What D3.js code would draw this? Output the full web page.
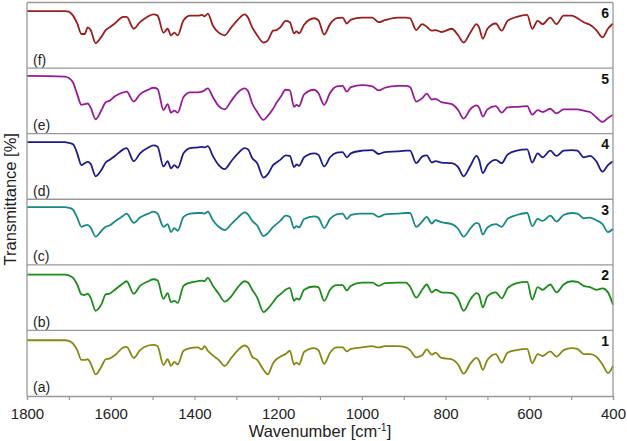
<!DOCTYPE html>
<html>
<head>
<meta charset="utf-8">
<script src="https://cdn.jsdelivr.net/npm/d3@7"></script>
<style>
  body { margin: 0; background: #fff; }
  svg { display: block; font-family: "Liberation Sans", Arial, sans-serif; }
</style>
</head>
<body>
<svg id="chart" width="627" height="441"></svg>
<script>
// FTIR spectra, six stacked panels, wavenumber axis reversed (1800 -> 400)

// shared wavenumber grid [cm-1]
const wavenumbers = [
  1800,1710,1700,1690,1680,1670,1662,1655,1648,1636,
  1622,1612,1603,1590,1570,1562,1545,1530,1510,1498,
  1488,1474,1464,1456,1448,1440,1426,1410,1392,1382,
  1376,1368,1356,1342,1328,1312,1296,1280,1272,1262,
  1250,1235,1225,1212,1204,1195,1182,1172,1162,1156,
  1150,1138,1114,1104,1090,1076,1060,1046,1036,1026,
  1000,975,960,945,915,895,885,870,856,845,
  833,824,810,785,770,757,740,726,720,711,
  700,680,666,652,630,605,593,580,568,550,
  535,518,498,485,470,455,440,425,412,400
];

// transmittance (relative, 0-100 within each panel)
const specA = [
  85,85,84,80,70,55,55,56,50,33,
  45,56,57,62,74,75,58,70,77,78,
  76,47,56,46,52,48,69,73,74,71,
  76,69,62,55,46,58,70,77,74,60,
  55,40,33,50,56,60,64,69,48,51,
  48,67,73,70,49,66,74,74,68,72,
  74,76,74,76,76,74,70,59,62,71,
  63,66,58,56,48,34,50,58,54,40,
  55,64,51,66,70,72,50,64,61,68,
  60,70,73,72,64,64,60,48,35,46
];
const specB = [
  85,85,84,80,70,55,54,56,50,30,
  40,55,56,62,72,75,56,68,75,78,
  76,48,57,43,45,42,68,73,75,76,
  75,80,68,56,44,52,66,75,73,62,
  50,28,33,43,50,55,62,65,45,49,
  47,62,67,66,45,62,69,69,61,68,
  73,73,68,72,73,73,67,50,62,70,
  58,62,58,57,48,30,48,57,54,35,
  52,58,49,64,72,74,47,66,62,70,
  58,70,75,74,68,66,62,64,58,39
];
const specC = [
  88,88,87,84,72,58,60,61,57,43,
  52,58,60,66,75,78,64,72,78,81,
  78,58,62,50,56,52,73,78,79,79,
  78,81,68,58,53,62,72,80,77,67,
  60,44,48,58,62,67,75,73,56,59,
  57,70,74,72,56,70,77,78,70,76,
  78,78,73,77,78,79,79,58,66,73,
  63,68,65,62,55,43,56,64,62,46,
  57,62,58,70,76,79,59,70,67,75,
  66,76,79,78,71,72,68,62,50,55
];
const specD = [
  87,87,86,84,70,52,55,57,54,35,
  45,56,60,66,76,78,58,70,79,82,
  80,50,58,47,52,48,70,78,79,80,
  79,81,66,52,46,58,70,78,76,63,
  55,33,38,52,56,60,67,66,49,53,
  51,64,70,68,50,64,71,72,64,70,
  74,75,69,72,73,74,74,55,65,67,
  56,58,56,55,49,35,52,66,60,40,
  52,60,55,68,74,76,56,70,64,74,
  66,74,75,74,64,66,58,42,52,58
];
const specE = [
  88,87,85,78,60,44,45,46,40,22,
  36,48,50,57,63,64,49,60,67,70,
  68,36,45,32,35,32,56,63,63,64,
  66,69,56,42,37,50,63,69,65,46,
  33,21,27,38,47,55,67,66,41,44,
  42,60,67,62,44,62,72,73,64,71,
  74,72,66,70,73,73,71,49,54,61,
  52,53,48,45,36,23,38,43,40,26,
  37,42,32,40,41,42,29,36,33,38,
  31,37,37,37,35,33,25,18,24,29
];
const specF = [
  87,87,86,80,68,52,52,62,58,38,
  48,58,62,68,78,78,60,70,79,82,
  80,54,60,50,54,50,73,80,80,81,
  79,83,65,54,50,62,74,82,77,62,
  50,39,42,57,58,62,72,70,53,56,
  53,66,76,73,51,67,76,77,68,74,
  77,77,70,73,77,77,76,58,67,63,
  57,58,55,60,50,39,55,67,62,45,
  60,68,57,72,78,81,60,72,67,77,
  67,80,80,76,70,66,58,47,60,68
];

// panel order top -> bottom
const series = [specF, specE, specD, specC, specB, specA];
const panelLabels = ["(f)", "(e)", "(d)", "(c)", "(b)", "(a)"];
const sampleNumbers = ["6", "5", "4", "3", "2", "1"];
const colors = ["#9c1b1b", "#991a99", "#1c1c8c", "#178a86", "#1c8c1c", "#878711"];
const xTicks = [1800,1700,1600,1500,1400,1300,1200,1100,1000,900,800,700,600,500,400];

const plotLeft = 27, plotRight = 613, plotTop = 2.5, plotBottom = 396;
const ph = (plotBottom - plotTop) / series.length;

const svg = d3.select("#chart");

const x = d3.scaleLinear().domain([1800, 400]).range([plotLeft, plotRight]);
const y = d3.scaleLinear().domain([0, 100]).range([ph, 0]);

const line = d3.line()
  .x(d => x(d[0]))
  .y(d => y(d[1]))
  .curve(d3.curveMonotoneX);

const panels = svg.selectAll(".panel")
  .data(series)
  .join("g")
  .attr("class", "panel")
  .attr("transform", (d, i) => `translate(0,${plotTop + i * ph})`);

// panel separators
panels.append("line")
  .attr("x1", plotLeft).attr("x2", plotRight)
  .attr("y1", 0).attr("y2", 0)
  .attr("stroke", "#999").attr("stroke-width", 1.3);

panels.append("path")
  .attr("d", d => line(wavenumbers.map((w, k) => [w, d[k]])))
  .attr("fill", "none")
  .attr("stroke", (d, i) => colors[i])
  .attr("stroke-width", 1.8)
  .attr("stroke-linejoin", "round");

panels.append("text")
  .attr("x", plotLeft + 6)
  .attr("y", ph - 3.5)
  .attr("font-size", "14px")
  .attr("fill", "#222")
  .text((d, i) => panelLabels[i]);

panels.append("text")
  .attr("x", 609)
  .attr("y", 15.5)
  .attr("text-anchor", "end")
  .attr("font-size", "14px")
  .attr("font-weight", "bold")
  .attr("fill", "#111")
  .text((d, i) => sampleNumbers[i]);

// frame verticals
svg.append("line").attr("x1", plotLeft).attr("x2", plotLeft).attr("y1", plotTop).attr("y2", plotBottom)
  .attr("stroke", "#999").attr("stroke-width", 1.3);
svg.append("line").attr("x1", plotRight).attr("x2", plotRight).attr("y1", plotTop).attr("y2", plotBottom)
  .attr("stroke", "#999").attr("stroke-width", 1.3);

// x axis
const xAxis = svg.append("g")
  .attr("transform", `translate(0,${plotBottom})`)
  .call(d3.axisBottom(x)
    .tickValues(xTicks)
    .tickSize(4)
    .tickPadding(8)
    .tickFormat(d => d % 200 === 0 ? d : ""));
xAxis.select(".domain").attr("stroke", "#999").attr("stroke-width", 1.3);
xAxis.selectAll(".tick line").attr("stroke", "#999").attr("stroke-width", 1.2);
xAxis.selectAll("text")
  .attr("font-size", "15px")
  .attr("font-family", "'Liberation Sans', Arial, sans-serif")
  .attr("fill", "#222");

// axis titles
const xt = svg.append("text")
  .attr("x", (plotLeft + plotRight) / 2)
  .attr("y", 437)
  .attr("text-anchor", "middle")
  .attr("font-size", "16.5px")
  .attr("fill", "#222");
xt.append("tspan").text("Wavenumber [cm");
xt.append("tspan").attr("font-size", "10.5px").attr("dy", "-6").text("-1");
xt.append("tspan").attr("dy", "6").text("]");

svg.append("text")
  .attr("transform", `translate(16,${(plotTop + plotBottom) / 2}) rotate(-90)`)
  .attr("text-anchor", "middle")
  .attr("font-size", "16.5px")
  .attr("fill", "#222")
  .text("Transmittance [%]");
</script>
</body>
</html>
